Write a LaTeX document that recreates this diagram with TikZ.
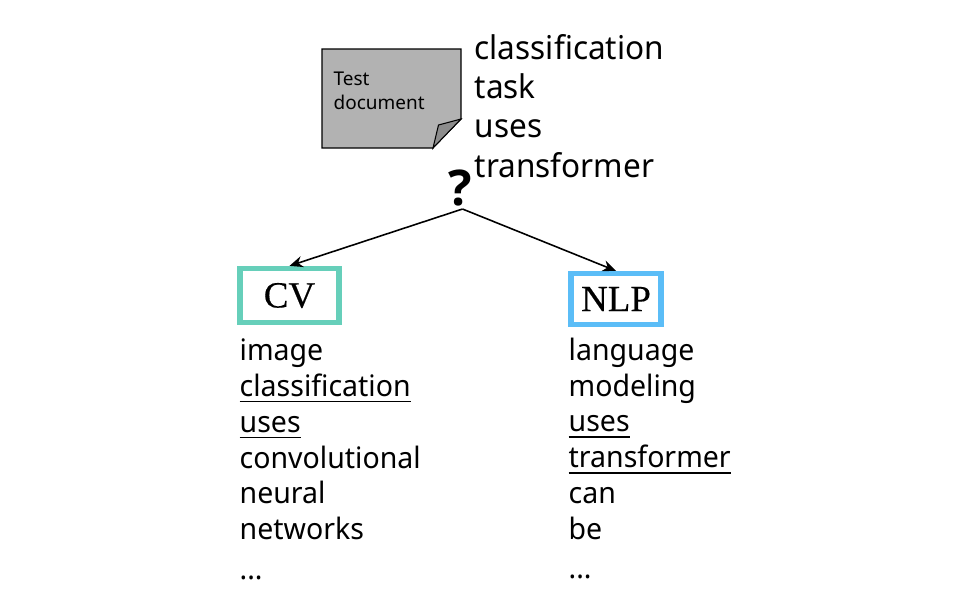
\documentclass[tikz,border=0pt]{standalone}
\usepackage{fontspec}
\setmainfont{Noto Sans}
\usepackage{tikz}
\usetikzlibrary{arrows.meta}
\newfontfamily\boxfont[FakeBold=0.4]{Liberation Serif}
\newfontfamily\wordfont[FakeStretch=0.965]{Noto Sans}
\newfontfamily\markfont{Open Sans}
\definecolor{cvgreen}{HTML}{66CFBA}
\definecolor{nlpblue}{HTML}{5BBDF7}

\begin{document}
\begin{tikzpicture}[
                words/.style={anchor=north west, inner sep=0pt, align=left, font=\wordfont\fontsize{8.4pt}{10.2pt}\selectfont},
                topic/.style={draw, line width=1.5pt, fill=white, minimum height=0.54cm, inner sep=0pt, font=\boxfont\fontsize{10.5pt}{12pt}\selectfont},
                ->, >={Stealth[length=3.8pt, width=3.2pt]}
            ]
            \useasboundingbox (0, 0) rectangle (9.62, 6.08);

            % Test document
            \draw[-, fill=black!30, line width=0.3pt] (3.22, 5.59) -- (4.61, 5.59) -- (4.61, 4.89) -- (4.33, 4.60) -- (3.22, 4.60) -- cycle;
            \draw[-, fill=black!45, line width=0.3pt] (4.61, 4.89) -- (4.385, 4.83) -- (4.33, 4.60) -- cycle;
            \node[anchor=north west, inner sep=0pt, align=left, font=\fontsize{5.4pt}{6.8pt}\selectfont] (doc) at (3.33, 5.37) {Test\\document};

            % Query words
            \node[words, font=\wordfont\fontsize{9.3pt}{11.2pt}\selectfont] (query) at (4.74, 5.745) {classification\\task\\uses\\transformer};
            \node[inner sep=0pt, font=\markfont\bfseries\fontsize{14pt}{16pt}\selectfont] (mark) at (4.60, 4.205) {?};
            \coordinate (apex) at (4.625, 3.99);

            % Topic boxes
            \node[topic, draw=cvgreen, minimum width=0.99cm] (cv) at (2.895, 3.125) {CV};
            \node[topic, draw=nlpblue, minimum width=0.90cm, minimum height=0.51cm] (nlp) at (6.16, 3.09) {NLP};

            % Word lists
            \node[words] (cvwords) at (2.39, 2.70) {image\\\underline{classification}\\\underline{uses}\\convolutional\\neural\\networks\\[1pt]...};
            \node[words] (nlpwords) at (5.68, 2.71) {language\\modeling\\\underline{uses}\\\underline{transformer}\\can\\be\\[1pt]...};

            % Edges
            \draw[line width=0.45pt] (apex) -- (cv.north);
            \draw[line width=0.45pt] (apex) -- (nlp.north);

            \end{tikzpicture}
\end{document}
